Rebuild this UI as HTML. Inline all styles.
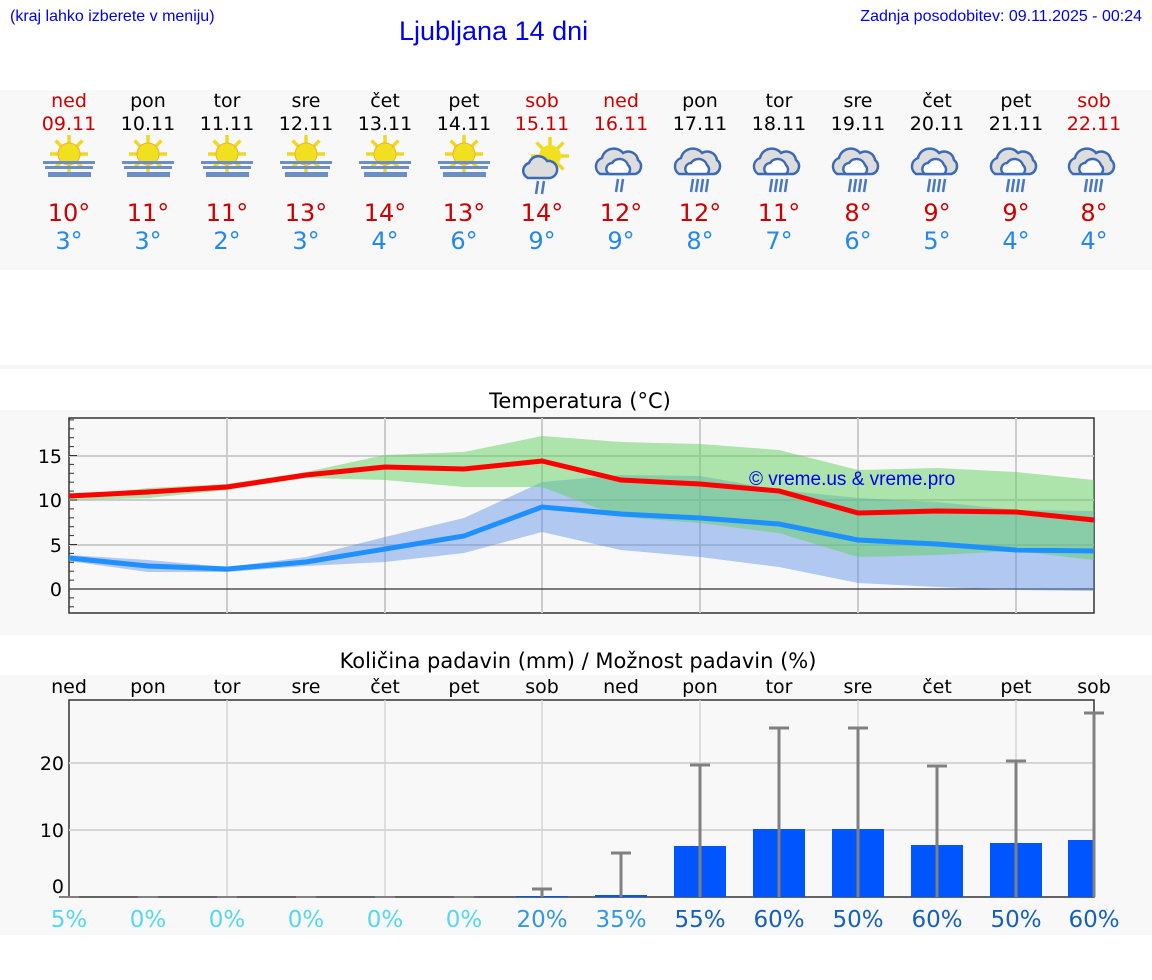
<!DOCTYPE html>
<html><head><meta charset="utf-8"><style>
body{margin:0;background:#fff;width:1152px;height:975px;overflow:hidden;font-family:"Liberation Sans",sans-serif}
svg text{font-family:"DejaVu Sans","Liberation Sans",sans-serif}
</style></head><body>
<svg id="s" width="1152" height="975" xmlns="http://www.w3.org/2000/svg">
<rect x="0" y="90" width="1152" height="180" fill="#f8f8f8"/>
<rect x="0" y="365" width="1152" height="4" fill="#f6f6f6"/>
<rect x="0" y="410" width="1152" height="225" fill="#f8f8f8"/>
<rect x="0" y="675" width="1152" height="260" fill="#f8f8f8"/>
<text x="10" y="21" font-size="16" fill="#0000ee" style="font-family:'Liberation Sans',sans-serif">(kraj lahko izberete v meniju)</text>
<text x="399" y="40" font-size="27" fill="#0000ee" style="font-family:'Liberation Sans',sans-serif">Ljubljana 14 dni</text>
<text x="1142" y="21" font-size="16" fill="#0000ee" text-anchor="end" style="font-family:'Liberation Sans',sans-serif">Zadnja posodobitev: 09.11.2025 - 00:24</text>
<text x="580" y="408" font-size="21" text-anchor="middle">Temperatura (°C)</text>
<text x="578" y="668" font-size="21" text-anchor="middle">Količina padavin (mm) / Možnost padavin (%)</text>
<g id="g"></g>
</svg>
<script>
const X=[69,148,227,306,385,464,542,621,700,779,858,937,1016,1094];
const names=["ned","pon","tor","sre","čet","pet","sob","ned","pon","tor","sre","čet","pet","sob"];
const dates=["09.11","10.11","11.11","12.11","13.11","14.11","15.11","16.11","17.11","18.11","19.11","20.11","21.11","22.11"];
const hi=[10,11,11,13,14,13,14,12,12,11,8,9,9,8],lo=[3,3,2,3,4,6,9,9,8,7,6,5,4,4];
const red=[0,6,7,13];
let h="";
function t(x,y,s,c,str,a){return `<text x="${x}" y="${y}" font-size="${s}" fill="${c}" text-anchor="${a||'middle'}">${str}</text>`;}
X.forEach((x,i)=>{
 const c=red.includes(i)?"#cc0000":"#000";
 h+=t(x,107,19,c,names[i])+t(x,130,19,c,dates[i]);
 h+=t(x,221,24,"#cc0000",hi[i]+"°")+t(x,249,24,"#2288ee",lo[i]+"°");
 if(i<6){
  let r="";for(let k=0;k<8;k++){const a=k*Math.PI/4;r+=`<line x1="${x+Math.cos(a)*10}" y1="${154+Math.sin(a)*10}" x2="${x+Math.cos(a)*19}" y2="${154+Math.sin(a)*19}" stroke="#f0d820" stroke-width="3.5"/>`;}
  h+=r+`<circle cx="${x}" cy="154" r="11" fill="#f0e020" stroke="#f0b030" stroke-width="1"/>`;
  h+=`<rect x="${x-26}" y="161" width="52" height="3" fill="#6b8fc4"/><rect x="${x-24}" y="166" width="48" height="3" fill="#6b8fc4"/><rect x="${x-21}" y="172" width="43" height="5" fill="#6b8fc4"/>`;
 } else {
  if(i==6){let r="";for(let k=0;k<8;k++){const a=k*Math.PI/4;r+=`<line x1="${x+8+Math.cos(a)*10}" y1="${156+Math.sin(a)*10}" x2="${x+8+Math.cos(a)*19}" y2="${156+Math.sin(a)*19}" stroke="#f0d820" stroke-width="3.5"/>`;}
   h+=r+`<circle cx="${x+8}" cy="156" r="11" fill="#f0e020"/>`;
   h+=`<path d="M${x-14} 178 a8 8 0 0 1 1-15 a10 10 0 0 1 18-2 a7 7 0 0 1 3 17 z" fill="#ddd" stroke="#3a6ab8" stroke-width="2.5"/>`;
   h+=`<line x1="${x-4}" y1="181" x2="${x-6}" y2="194" stroke="#4a78c0" stroke-width="2.5"/><line x1="${x+2}" y1="181" x2="${x}" y2="194" stroke="#4a78c0" stroke-width="2.5"/>`;
  } else {
   h+=`<path d="M${x-21} 174 a9 9 0 0 1 2-16 a12 12 0 0 1 21-5 a10 10 0 0 1 15 7 a8 8 0 0 1 -3 14 z" fill="#ddd" stroke="#3a6ab8" stroke-width="2.5"/>`;
   h+=`<path d="M${x-12} 174 a6 6 0 0 1 3-11 a9 9 0 0 1 16 2 a6 6 0 0 1 0 9 z" fill="#fff" stroke="#3a6ab8" stroke-width="2.5"/>`;
   const n=i==7?2:4;for(let k=0;k<n;k++){const xx=x-7+k*5+(n==2?4:0);h+=`<line x1="${xx}" y1="179" x2="${xx-2}" y2="192" stroke="#4a78c0" stroke-width="2.5"/>`;}
  }
 }
});
// temp chart
h+=`<rect x="69" y="418" width="1025" height="195" fill="#f8f8f8" stroke="#333" stroke-width="1.5"/>`;
[456,500,545].forEach(y=>h+=`<line x1="69" x2="1094" y1="${y}" y2="${y}" stroke="#ccc" stroke-width="2"/>`);
[227,385,542,700,858,1016].forEach(x=>h+=`<line x1="${x}" x2="${x}" y1="418" y2="613" stroke="#ccc" stroke-width="2"/>`);
h+=`<line x1="69" x2="1094" y1="589" y2="589" stroke="#333" stroke-width="1.2"/>`;
for(let v=-2;v<=19;v++){const y=589-v*8.9;h+=`<line x1="69" x2="${v%5==0?77:74}" y1="${y}" y2="${y}" stroke="#333"/>`;}
[[15,456],[10,500],[5,545],[0,589]].forEach(([v,y])=>h+=t(62,y+7,19,"#000",v,"end"));
function poly(a,b,c,op){let p=X.map((x,i)=>x+","+a[i]).join(" ")+" "+X.map((x,i)=>x+","+b[i]).reverse().join(" ");return `<polygon points="${p}" fill="${c}" fill-opacity="${op}"/>`;}
const gu=[497,488,484,472,455,452,436,442,444,450,470,468,472,480],gl=[500,498,490,478,480,487,487,517,523,533,557,555,551,560];
const bu=[555,560,567,557,537,518,482,475,476,490,498,502,510,511],bl=[561,572,572,566,562,553,532,550,557,567,583,587,590,591];
h+=poly(bu,bl,"#5b8de6",0.45)+poly(gu,gl,"#5fd05f",0.5);
const rl=[496,492,487,475,467,469,461,480,484,491,513,511,512,520],bll=[558,566,569,562,549,536,507,514,518,524,540,544,550,551];
h+=`<polyline points="${X.map((x,i)=>x+","+rl[i]).join(" ")}" fill="none" stroke="#ff0000" stroke-width="5"/>`;
h+=`<polyline points="${X.map((x,i)=>x+","+bll[i]).join(" ")}" fill="none" stroke="#1e90ff" stroke-width="5"/>`;
h+=`<text x="749" y="485" font-size="19" fill="#0000ee" style="font-family:'Liberation Sans',sans-serif">© vreme.us &amp; vreme.pro</text>`;
// precip
h+=`<rect x="69" y="700" width="1025" height="197" fill="#f8f8f8" stroke="#333" stroke-width="1.5"/>`;
[763,830].forEach(y=>h+=`<line x1="69" x2="1094" y1="${y}" y2="${y}" stroke="#d6d6d6" stroke-width="2"/>`);
[227,385,542,700,858,1016].forEach(x=>h+=`<line x1="${x}" x2="${x}" y1="700" y2="897" stroke="#d6d6d6" stroke-width="1.5"/>`);
h+=t(64,893,19,"#000","0","end")+t(64,837,19,"#000","10","end")+t(64,770,19,"#000","20","end");
const bt=[897,897,897,897,897,897,896,895,846,829,829,845,843,840],et=[897,897,897,897,897,897,889,853,765,728,728,766,761,713];
const pc=["5%","0%","0%","0%","0%","0%","20%","35%","55%","60%","50%","60%","50%","60%"];
X.forEach((x,i)=>{
 h+=t(x,693,19,"#000",names[i]);
 const w=i==13?26:52, bx=x-26;
 if(bt[i]<897)h+=`<rect x="${bx}" y="${bt[i]}" width="${w}" height="${897-bt[i]}" fill="#0055ff"/>`;
 if(et[i]<897){h+=`<line x1="${x}" x2="${x}" y1="${et[i]}" y2="897" stroke="#808080" stroke-width="3"/><line x1="${x-10}" x2="${x+10}" y1="${et[i]}" y2="${et[i]}" stroke="#808080" stroke-width="3"/>`;}
 else h+=`<line x1="${x-10}" x2="${x+10}" y1="897" y2="897" stroke="#808080" stroke-width="2"/>`;
 const c=i<6?"#55d8ee":i<8?"#3399dd":"#1560bd";
 h+=t(x,927,23,c,pc[i]);
});
document.getElementById("g").innerHTML=h;
</script>
</body></html>
